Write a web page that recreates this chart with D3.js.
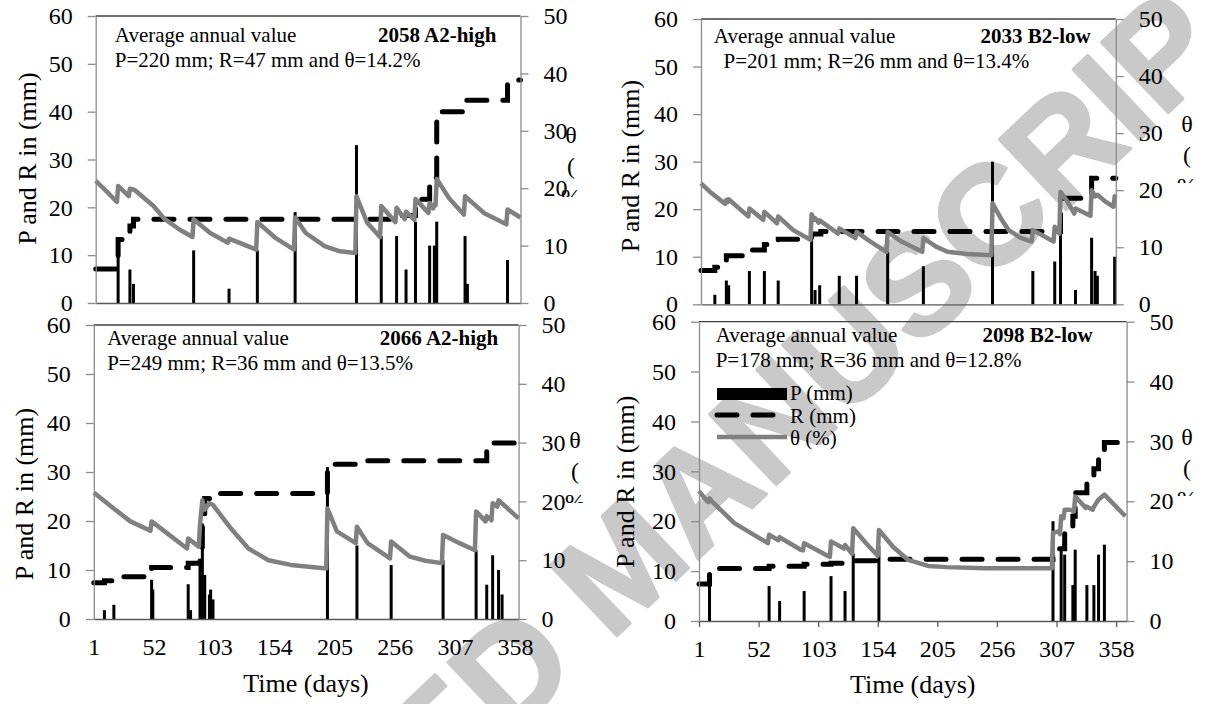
<!DOCTYPE html>
<html>
<head>
<meta charset="utf-8">
<script src="https://cdn.jsdelivr.net/npm/d3@7"></script>
<style>
  body { margin: 0; background: #fff; }
  svg text { font-family: "Liberation Serif", "Times New Roman", serif; fill: #000; }
</style>
</head>
<body>
<svg id="chart" width="1205" height="704"></svg>
<script>
// ---- data ----
let dayTicks = [1, 52, 103, 154, 205, 256, 307, 358]
let leftTicks = [0, 10, 20, 30, 40, 50, 60]
let rightTicks = [0, 10, 20, 30, 40, 50]

let scenarioNames = ["2058 A2-high", "2033 B2-low", "2066 A2-high", "2098 B2-low"]
let annualStats = [
    "P=220 mm; R=47 mm and θ=14.2%",
    "P=201 mm; R=26 mm and θ=13.4%",
    "P=249 mm; R=36 mm and θ=13.5%",
    "P=178 mm; R=36 mm and θ=12.8%"
]
let legendNames = ["P (mm)", "R (mm)", "θ (%)"]

// [day, P mm]
let precip2058 = [[20,10],[30,7],[33,4],[84,11],[114,3],[138,11],[170,19],[222,33],[243,14],[256,14],[264,7],[272,17],[284,12],[288,12],[290,17],[314,14],[316,4],[350,9]]
let precip2033 = [[13,2],[23,5],[25,4],[43,7],[56,7],[68,5],[97,15],[100,3],[104,4],[121,6],[136,6],[163,11],[194,8],[254,30],[289,7],[308,9],[313,15],[326,3],[340,14],[343,7],[345,6],[360,10]]
let precip2066 = [[10,1.8],[18,2.9],[50,8],[51,6],[81,7.1],[83,1.8],[91,12],[93,19.5],[95,9],[99,5],[100,6],[102,4],[199,31],[224,15],[253,11],[297,12],[325,14],[334,7],[339,13],[344,10],[347,5]]
let precip2098 = [[10,9],[61,7],[70,4],[91,6],[114,9],[126,6],[133,13.5],[155,15],[304,20],[311,14.6],[314,13.3],[321,7.2],[323,14.3],[333,7.2],[339,7.2],[343,13.3],[348,15.3]]

// [day, cumulative R mm] at the days it changes
let runoff2058 = [[1,7.1],[20,13.3],[30,16.1],[33,17.5],[256,18.3],[272,21.7],[284,25.2],[288,26.2],[290,40],[314,42.4],[350,46.6]]
let runoff2033 = [[1,7.1],[13,7.8],[23,10.2],[43,11.4],[56,12.6],[68,13.7],[97,14.8],[105,15.3],[313,22.3],[340,26.5]]
let runoff2066 = [[1,7.4],[10,7.8],[18,8.6],[50,10.5],[81,11.4],[91,14],[93,21],[95,24.6],[100,25.6],[199,31.6],[224,32.3],[334,35.2],[339,35.9]]
let runoff2098 = [[1,7.4],[10,10.5],[61,11.0],[91,11.4],[114,11.6],[133,12.1],[155,12.4],[304,14.5],[314,17.5],[321,21],[323,25.7],[333,27.5],[339,30.5],[343,33],[348,35.8]]

// [day, theta %]
let theta2058 = [[1,21.3],[10,19.5],[19,17.6],[20,20.4],[29,18.6],[30,19.9],[34,19.7],[50,16.9],[59,14.7],[72,12.8],[83,11.5],[84,14.6],[98,12.2],[113,10.5],[114,11.2],[137,9.3],[138,14.1],[153,11.4],[169,9.3],[170,14.9],[179,12.2],[195,9.9],[208,9.0],[221,8.7],[222,18.6],[231,14.0],[242,11.5],[243,16.9],[255,14.1],[256,16.6],[263,14.6],[264,15.9],[271,14.5],[272,18.1],[283,15.7],[284,17.4],[287,16.5],[288,17.2],[289,17.0],[290,21.6],[301,18.1],[313,15.4],[314,18.6],[330,15.7],[349,13.7],[350,16.3],[361,14.9]]
let theta2033 = [[1,21.2],[10,19.5],[22,17.6],[23,18.3],[24,17.9],[25,18.4],[42,15.4],[43,16.8],[55,14.8],[56,16.2],[67,14.2],[68,15.4],[81,13.0],[96,11.3],[97,15.8],[99,14.8],[100,15.1],[103,14.3],[104,14.7],[120,12.4],[121,13.3],[135,11.6],[136,12.7],[148,11.0],[162,9.2],[163,12.7],[175,11.0],[193,9.2],[194,11.6],[205,10.1],[215,9.2],[232,8.8],[253,8.6],[254,17.7],[262,14.8],[268,13.0],[278,11.7],[288,11.0],[289,13.0],[307,11.0],[308,13.6],[312,12.4],[313,19.7],[319,18.0],[325,15.9],[326,16.8],[339,15.5],[340,20.0],[343,18.9],[345,19.2],[352,18.0],[359,17.1],[360,18.9],[361,19.2]]
let theta2066 = [[1,21.5],[16,19.1],[32,16.6],[49,15.0],[50,16.6],[80,12.0],[81,13.7],[83,13.4],[90,12.3],[91,16],[93,20.2],[95,18.6],[99,19.7],[102,19.4],[116,15.7],[132,12.0],[149,10.0],[168,9.2],[198,8.6],[199,18.8],[207,14.9],[223,12.9],[224,15.7],[233,12.9],[252,10.3],[253,13.2],[269,10.6],[282,9.9],[296,9.5],[297,14.3],[311,12.9],[324,11.7],[325,18.3],[333,16.6],[334,17.5],[338,16.8],[339,19.7],[343,19.1],[344,20.2],[361,17.1]]
let theta2098 = [[1,21.7],[8,20.0],[9,19.9],[10,20.5],[12,20.0],[31,16.4],[48,14.4],[60,13.0],[61,14.4],[69,13.5],[70,14.0],[88,11.9],[90,11.8],[91,13.0],[113,10.7],[114,13.3],[125,12.1],[126,12.7],[132,11.2],[133,15.5],[144,13.0],[154,10.9],[155,15.2],[167,12.4],[180,10.2],[197,9.2],[213,9.0],[246,8.8],[303,8.8],[304,14.7],[309,15.0],[310,14.5],[311,17.5],[313,17.2],[314,18.6],[319,18.6],[322,18.3],[323,20.8],[332,18.9],[333,19.1],[338,18.6],[339,19.1],[343,20.3],[348,21.1],[366,17.5]]

let precip = [precip2058, precip2033, precip2066, precip2098]
let runoff = [runoff2058, runoff2033, runoff2066, runoff2098]
let theta = [theta2058, theta2033, theta2066, theta2098]

// ---- layout of the four panels ----
let layout = [
    {left: 95.7, right: 520.5, top: 16, bottom: 303, xMax: 361, avgX: 114.8, avgY: 41.7, scenX: 496.4, statX: 114.8, statY: 66.7,
     yTitleX: 27, yTitleY: 158.5, thX: 571, thY: 143, thClip: 197, xLabels: false},
    {left: 701, right: 1115.8, top: 19, bottom: 304.3, xMax: 361, avgX: 713.8, avgY: 43.3, scenX: 1090.7, statX: 723.5, statY: 68.3,
     yTitleX: 630, yTitleY: 166, thX: 1187, thY: 132, thClip: 183, xLabels: false},
    {left: 93.8, right: 518.6, top: 325, bottom: 619, xMax: 361, avgX: 107.2, avgY: 345, scenX: 498.3, statX: 107.2, statY: 370,
     yTitleX: 24, yTitleY: 494, thX: 575, thY: 448, thClip: 503, xLabels: true, xTicks: 0, xTitleX: 306, xTitleY: 691.7},
    {left: 699, right: 1126.6, top: 321.7, bottom: 621, xMax: 367, avgX: 715.7, avgY: 341.7, scenX: 1092.7, statX: 715.7, statY: 366.7,
     yTitleX: 625, yTitleY: 481.7, thX: 1187, thY: 445, thClip: 496, xLabels: true, xTicks: 6, xTitleX: 912.8, xTitleY: 693}
]

let svg = d3.select("#chart")

// watermark, behind everything; the "M" is pinned where it sits in the original
let wmSize = 141
let wm = svg.append("text")
    .style("font-family", "'Liberation Sans', Arial, sans-serif")
    .style("font-weight", "bold")
    .style("font-size", wmSize + "px")
    .style("fill", "#c9c9c9")
    .style("stroke", "#c9c9c9")
    .style("stroke-width", 3)
    .style("stroke-linejoin", "round")
    .text("ACCEPTED MANUSCRIPT")
let mBox = wm.node().getExtentOfChar(9)
let mMid = mBox.x + mBox.width / 2
wm.attr("transform", `translate(618,565) rotate(-43.5) translate(${-mMid},${0.36 * wmSize})`)

function styleAxis(sel, lineColor) {
    sel.selectAll("path.domain").style("stroke", lineColor).style("stroke-width", 1.3)
    sel.selectAll(".tick line").style("stroke", lineColor).style("stroke-width", 1.3)
    sel.selectAll(".tick text")
        .style("font-family", "'Liberation Serif', 'Times New Roman', serif")
        .style("font-size", "24px")
        .style("fill", "#000")
}

layout.forEach((L, i) => {
    let x = d3.scaleLinear().domain([1, L.xMax]).range([L.left, L.right])
    let yL = d3.scaleLinear().domain([0, 60]).range([L.bottom, L.top])
    let yR = d3.scaleLinear().domain([0, 50]).range([L.bottom, L.top])

    let g = svg.append("g").attr("class", "panel")

    // P bars
    g.selectAll(".bar")
        .data(precip[i])
        .enter()
        .append("rect")
        .attr("class", "bar")
        .attr("x", d => x(d[0]) - 1.5)
        .attr("width", 3)
        .attr("y", d => yL(d[1]))
        .attr("height", d => yL(0) - yL(d[1]))
        .style("fill", "#000")

    // R cumulative, held until the end of the year
    let r = runoff[i]
    let rFull = r.concat([[L.xMax, r[r.length - 1][1]]])
    g.append("path")
        .datum(rFull)
        .attr("d", d3.line().x(d => x(d[0])).y(d => yL(d[1])).curve(d3.curveStepAfter))
        .style("fill", "none")
        .style("stroke", "#000")
        .style("stroke-width", 5)
        .style("stroke-dasharray", "20,16")
        .style("stroke-linecap", "round")

    // theta
    g.append("path")
        .datum(theta[i])
        .attr("d", d3.line().x(d => x(d[0])).y(d => yR(d[1])))
        .style("fill", "none")
        .style("stroke", "#808080")
        .style("stroke-width", 4.5)
        .style("stroke-linejoin", "round")

    // frame: top border
    g.append("line")
        .attr("x1", L.left).attr("x2", L.right)
        .attr("y1", L.top).attr("y2", L.top)
        .style("stroke", "#404040").style("stroke-width", 1.3)

    // bottom axis
    let xAxis = d3.axisBottom(x)
        .tickValues(dayTicks)
        .tickSizeOuter(0)
        .tickSizeInner(L.xLabels ? L.xTicks : 0)
        .tickPadding(L.xLabels ? 36 - 17 - L.xTicks : 0)
        .tickFormat(L.xLabels ? d3.format("d") : "")
    let gx = g.append("g").attr("transform", `translate(0,${L.bottom})`).call(xAxis)
    styleAxis(gx, "#595959")

    // left axis
    let gl = g.append("g").attr("transform", `translate(${L.left},0)`)
        .call(d3.axisLeft(yL).tickValues(leftTicks).tickSize(8).tickSizeOuter(0).tickPadding(15))
    styleAxis(gl, "#8c8c8c")

    // right axis
    let gr = g.append("g").attr("transform", `translate(${L.right},0)`)
        .call(d3.axisRight(yR).tickValues(rightTicks).tickSize(8).tickSizeOuter(0).tickPadding(15))
    styleAxis(gr, "#8c8c8c")

    // in-plot annotations
    g.append("text").attr("x", L.avgX).attr("y", L.avgY)
        .style("font-size", "21px").text("Average annual value")
    g.append("text").attr("x", L.scenX).attr("y", L.avgY)
        .attr("text-anchor", "end")
        .style("font-size", "21px").style("font-weight", "bold")
        .text(scenarioNames[i])
    g.append("text").attr("x", L.statX).attr("y", L.statY)
        .style("font-size", "21px").text(annualStats[i])

    // left axis title
    g.append("text")
        .attr("transform", `translate(${L.yTitleX},${L.yTitleY}) rotate(-90)`)
        .attr("text-anchor", "middle")
        .attr("dy", "0.35em")
        .style("font-size", "26px")
        .text("P and R in (mm)")

    // right axis title, wrapped and cut off like the original
    let clipId = "thclip" + i
    svg.append("clipPath").attr("id", clipId)
        .append("rect")
        .attr("x", L.thX - 30).attr("y", L.thY - 40)
        .attr("width", 60).attr("height", L.thClip - (L.thY - 40))
    let th = g.append("text")
        .attr("clip-path", `url(#${clipId})`)
        .attr("text-anchor", "middle")
        .style("font-size", "24px")
    ;["θ", "(", "%"].forEach((s, k) => {
        th.append("tspan").attr("x", L.thX).attr("y", L.thY + k * 31).text(s)
    })

    if (L.xLabels) {
        g.append("text")
            .attr("x", L.xTitleX).attr("y", L.xTitleY)
            .attr("text-anchor", "middle")
            .style("font-size", "26px")
            .text("Time (days)")
    }

    // legend only in the last panel
    if (i == 3) {
        let lg = g.append("g").attr("class", "legend")
        lg.append("rect").attr("x", 717).attr("y", 388).attr("width", 70).attr("height", 12).style("fill", "#000")
        lg.append("line").attr("x1", 717).attr("x2", 778).attr("y1", 415).attr("y2", 415)
            .style("stroke", "#000").style("stroke-width", 5)
            .style("stroke-dasharray", "20,16").style("stroke-linecap", "round")
        lg.append("line").attr("x1", 717).attr("x2", 787).attr("y1", 437).attr("y2", 437)
            .style("stroke", "#808080").style("stroke-width", 4.5)
        let ys = [400, 423, 445]
        legendNames.forEach((n, k) => {
            lg.append("text").attr("x", 790).attr("y", ys[k]).style("font-size", "21px").text(n)
        })
    }
})
</script>
</body>
</html>
